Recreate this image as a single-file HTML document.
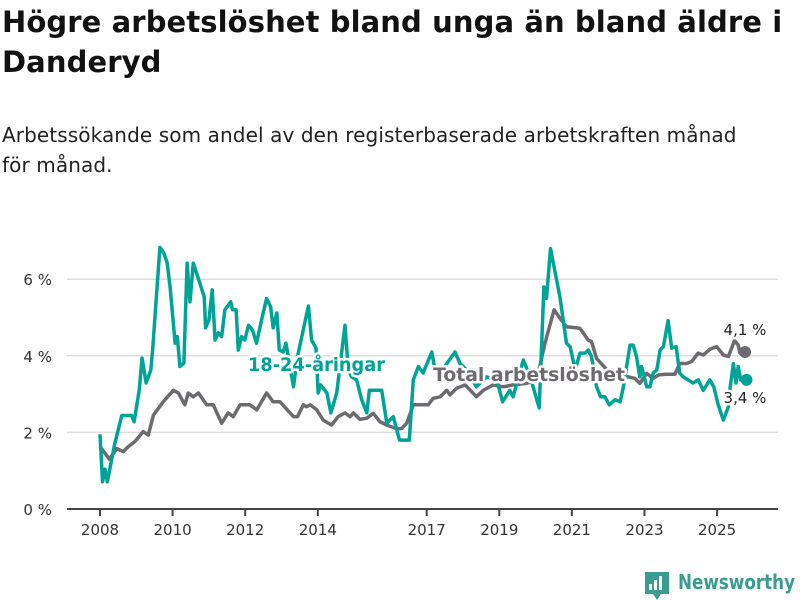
<!DOCTYPE html>
<html><head><meta charset="utf-8">
<style>
body{margin:0;background:#fff;font-family:"Liberation Sans","DejaVu Sans",sans-serif;}
#wrap{position:relative;width:800px;height:600px;overflow:hidden;}
h1{position:absolute;left:2px;top:2px;margin:0;font-size:29px;line-height:40px;font-weight:bold;color:#111;width:798px;font-family:"DejaVu Sans","Liberation Sans",sans-serif;letter-spacing:0.1px;white-space:nowrap}
p.sub{position:absolute;left:2px;top:120px;margin:0;font-size:20px;line-height:30px;color:#222;width:798px;font-family:"DejaVu Sans","Liberation Sans",sans-serif;letter-spacing:0.1px;white-space:nowrap}
svg{position:absolute;left:0;top:0}
</style></head><body>
<div id="wrap">
<h1>Högre arbetslöshet bland unga än bland äldre i<br>Danderyd</h1>
<p class="sub">Arbetssökande som andel av den registerbaserade arbetskraften månad<br>för månad.</p>
<svg id="chart" width="800" height="600"></svg>
</div>
<script>
const youthYears=[2008.0,2008.07,2008.14,2008.2,2008.41,2008.6,2008.87,2008.94,2009.08,2009.16,2009.27,2009.4,2009.45,2009.65,2009.76,2009.85,2009.93,2010.07,2010.13,2010.2,2010.31,2010.4,2010.48,2010.57,2010.75,2010.87,2010.91,2011.0,2011.09,2011.17,2011.26,2011.35,2011.44,2011.6,2011.65,2011.75,2011.81,2011.9,2011.99,2012.09,2012.2,2012.31,2012.45,2012.59,2012.7,2012.77,2012.87,2012.94,2013.05,2013.12,2013.33,2013.44,2013.74,2013.83,2013.95,2014.01,2014.08,2014.25,2014.36,2014.52,2014.75,2014.84,2014.93,2015.07,2015.21,2015.35,2015.42,2015.76,2015.9,2016.08,2016.25,2016.52,2016.63,2016.77,2016.9,2017.14,2017.23,2017.37,2017.78,2017.92,2018.1,2018.37,2018.65,2018.93,2019.09,2019.29,2019.38,2019.66,2019.85,2020.1,2020.23,2020.3,2020.41,2020.67,2020.85,2020.95,2021.09,2021.22,2021.36,2021.45,2021.54,2021.68,2021.79,2021.91,2022.03,2022.19,2022.33,2022.42,2022.6,2022.69,2022.78,2022.87,2022.92,2023.06,2023.15,2023.24,2023.34,2023.43,2023.52,2023.65,2023.75,2023.87,2023.97,2024.07,2024.2,2024.34,2024.48,2024.62,2024.8,2024.91,2025.03,2025.17,2025.31,2025.36,2025.45,2025.52,2025.58,2025.65,2025.81];
const youthValues=[1.95,0.71,1.04,0.71,1.72,2.44,2.44,2.28,3.1,3.94,3.29,3.63,4.15,6.83,6.68,6.42,5.8,4.33,4.5,3.72,3.81,6.42,5.41,6.42,5.9,5.54,4.73,4.93,5.72,4.41,4.6,4.5,5.2,5.41,5.2,5.2,4.15,4.5,4.41,4.8,4.67,4.33,4.93,5.5,5.28,4.73,5.12,4.15,4.1,4.33,3.19,3.98,5.3,4.41,4.2,3.03,3.24,3.03,2.51,3.03,4.8,3.63,3.45,3.37,2.85,2.51,3.1,3.1,2.24,2.41,1.8,1.8,3.37,3.72,3.55,4.1,3.63,3.55,4.1,3.8,3.63,3.19,3.45,3.37,2.8,3.1,2.93,3.89,3.45,2.64,5.8,5.5,6.8,5.54,4.33,4.24,3.63,4.07,4.07,4.15,3.98,3.19,2.93,2.93,2.72,2.85,2.8,3.19,4.28,4.28,3.98,3.45,3.72,3.19,3.19,3.55,3.63,4.15,4.24,4.92,4.2,4.24,3.55,3.45,3.37,3.29,3.37,3.1,3.37,3.19,2.72,2.32,2.67,3.19,3.8,3.29,3.72,3.37,3.37];
const totalYears=[2008.0,2008.26,2008.46,2008.64,2008.78,2008.96,2009.19,2009.33,2009.47,2009.74,2010.02,2010.16,2010.34,2010.43,2010.57,2010.71,2010.94,2011.12,2011.35,2011.53,2011.67,2011.86,2012.13,2012.32,2012.59,2012.77,2012.96,2013.33,2013.44,2013.6,2013.69,2013.79,2013.97,2014.15,2014.38,2014.56,2014.75,2014.89,2014.98,2015.16,2015.35,2015.53,2015.71,2015.9,2016.17,2016.31,2016.45,2016.63,2017.04,2017.18,2017.37,2017.55,2017.64,2017.82,2018.06,2018.28,2018.37,2018.56,2018.83,2019.11,2019.38,2019.75,2020.03,2020.26,2020.51,2020.67,2020.85,2021.22,2021.45,2021.54,2021.68,2022.0,2022.3,2022.55,2022.74,2022.87,2023.06,2023.24,2023.38,2023.57,2023.84,2023.97,2024.16,2024.3,2024.48,2024.62,2024.8,2024.99,2025.17,2025.31,2025.48,2025.58,2025.63,2025.77];
const totalValues=[1.63,1.3,1.58,1.5,1.63,1.76,2.02,1.93,2.45,2.8,3.1,3.03,2.72,3.03,2.93,3.03,2.72,2.72,2.24,2.51,2.41,2.72,2.72,2.59,3.03,2.8,2.8,2.41,2.41,2.72,2.67,2.72,2.59,2.32,2.19,2.41,2.51,2.41,2.51,2.34,2.37,2.5,2.28,2.19,2.1,2.1,2.24,2.72,2.72,2.89,2.93,3.1,2.98,3.15,3.24,3.02,2.93,3.1,3.24,3.19,3.24,3.28,3.37,4.33,5.2,4.98,4.76,4.72,4.41,4.37,3.93,3.6,3.5,3.45,3.41,3.28,3.54,3.41,3.5,3.52,3.52,3.8,3.8,3.85,4.07,4.02,4.17,4.24,4.02,3.98,4.4,4.28,4.07,4.1];
const yTicks=[0,2,4,6];
const yTickLabels=["0 %","2 %","4 %","6 %"];
const xTicks=[2008,2010,2012,2014,2017,2019,2021,2023,2025];
const xTickLabels=["2008","2010","2012","2014","2017","2019","2021","2023","2025"];

const NS="http://www.w3.org/2000/svg";
const svg=document.getElementById('chart');
const X=y=>100+(y-2008)*36.3;
const Y=v=>509-v*38.3;
function mk(tag,attrs,parent){const e=document.createElementNS(NS,tag);for(const k in attrs)e.setAttribute(k,attrs[k]);(parent||svg).appendChild(e);return e;}

yTicks.forEach((t,i)=>{
  if(t>0){const g=mk('line',{x1:67,x2:778,y1:Y(t),y2:Y(t),stroke:'#dddddd','stroke-width':1.5});
  
  }
  const tx=mk('text',{x:52,y:Y(t)+6,'text-anchor':'end','font-size':15,fill:'#333','font-family':'"DejaVu Sans","Liberation Sans",sans-serif'});
  tx.textContent=yTickLabels[i];
  
  
});
const ax=mk('line',{x1:67,x2:778,y1:509,y2:509,stroke:'#444','stroke-width':2});


xTicks.forEach((t,i)=>{
  const tk=mk('line',{x1:X(t),x2:X(t),y1:509,y2:516,stroke:'#444','stroke-width':2});
  
  
  const tx=mk('text',{x:X(t),y:535,'text-anchor':'middle','font-size':15,fill:'#333','font-family':'"DejaVu Sans","Liberation Sans",sans-serif'});
  tx.textContent=xTickLabels[i];
  
  
});
function pathD(xs,vs){return xs.map((x,i)=>(i?'L':'M')+X(x).toFixed(1)+','+Y(vs[i]).toFixed(1)).join('');}
const tl=mk('path',{d:pathD(totalYears,totalValues),fill:'none',stroke:'#6e6b70','stroke-width':3.5,'stroke-linejoin':'round'});


const yl=mk('path',{d:pathD(youthYears,youthValues),fill:'none',stroke:'#00a497','stroke-width':3.5,'stroke-linejoin':'round'});


const td=mk('circle',{cx:X(totalYears[totalYears.length-1]),cy:Y(totalValues[totalValues.length-1]),r:6,fill:'#6e6b70'});


const yd=mk('circle',{cx:X(youthYears[youthYears.length-1]),cy:Y(youthValues[youthValues.length-1]),r:6,fill:'#00a497'});


function lbl(txt,x,y,col,size,bold,name,anchor,len){
  const a={x:x,y:y,'font-size':size,fill:col,'font-weight':bold?'bold':'normal','text-anchor':anchor||'start',stroke:'#fff','stroke-width':5,'paint-order':'stroke','stroke-linejoin':'round','font-family':'"DejaVu Sans","Liberation Sans",sans-serif'};
  if(len){a.textLength=len;a.lengthAdjust='spacingAndGlyphs';}
  const t=mk('text',a);
  t.textContent=txt;
  
  
}
lbl('18-24-åringar',248,371,'#00a497',19,true,'youth-series-label','start',137);
lbl('Total arbetslöshet',433,381,'#6e6b70',19,true,'total-series-label','start',192);
lbl('4,1 %',745,335,'#222',15,false,'total-end-value','middle');
lbl('3,4 %',745,403,'#222',15,false,'youth-end-value','middle');
// logo
const lg=mk('g',{});


mk('path',{d:'M645,572 h24 v22 h-8 l-4,6 l-4,-6 h-8 z',fill:'#3a9b8f'},lg);
mk('rect',{x:649,y:584,width:3,height:6,fill:'#fff'},lg);
mk('rect',{x:654,y:580,width:3,height:10,fill:'#fff'},lg);
mk('rect',{x:659,y:576,width:3,height:14,fill:'#fff'},lg);
const lt=mk('text',{x:678,y:589,'font-size':20,fill:'#3a9b8f','font-weight':'bold',textLength:117,lengthAdjust:'spacingAndGlyphs','font-family':'"DejaVu Sans","Liberation Sans",sans-serif'},lg);
lt.textContent='Newsworthy';
</script>
</body></html>
